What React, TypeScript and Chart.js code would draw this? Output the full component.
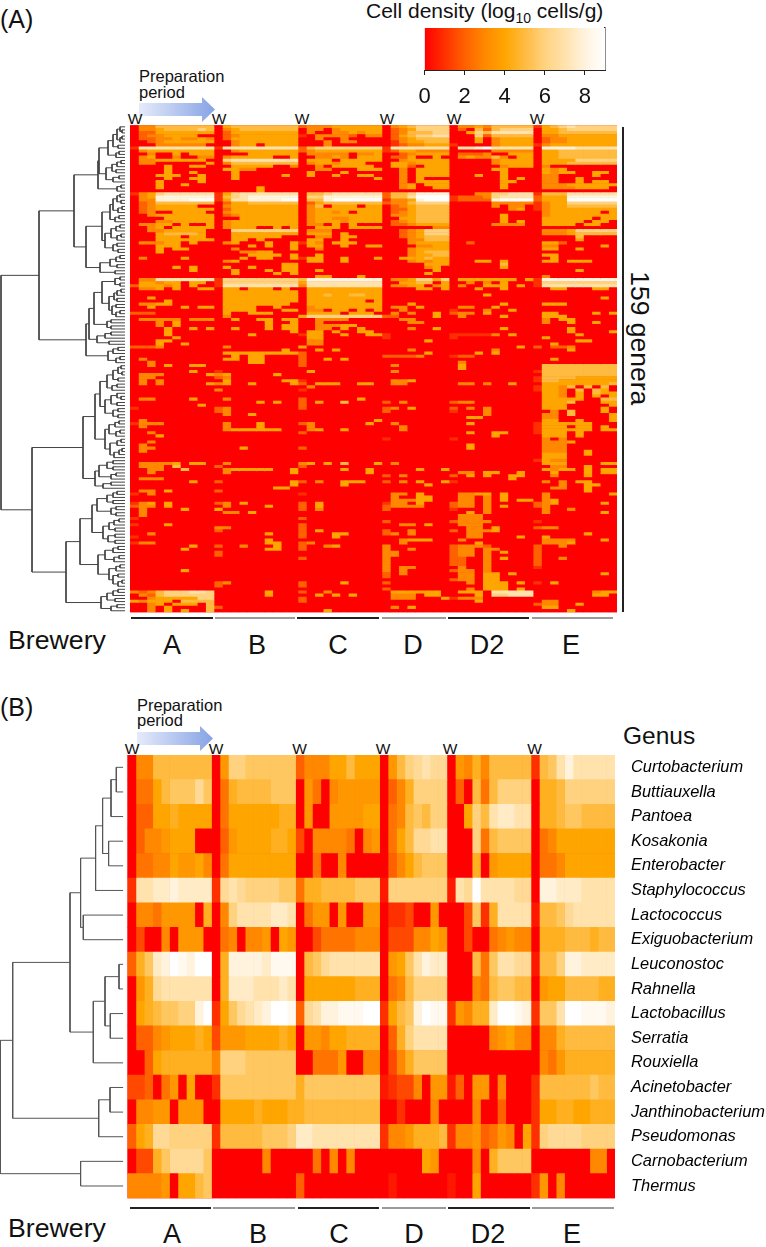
import React, { useEffect, useRef } from "react";
import { Chart, registerables } from "chart.js";
Chart.register(...registerables);

const FONT = '"Liberation Sans", Arial, sans-serif';
const breweries = ["A", "B", "C", "D", "D2", "E"];
const breweryColumns = [10, 10, 10, 8, 10, 10];
const colorStops = ["#ff0000", "#ff3000", "#ff6000", "#ff8800", "#ffa500", "#ffbb40", "#ffd280", "#ffe2ac", "#fff3de", "#ffffff"];

// Panel B: log10 density per sample
const curtobacterium = [0,3,3,5,5,5,5,5,5,5, 0,3.5,6,6,5.5,5.5,5.5,5.5,5.5,5.5, 2,3,3,3,4,4,5,4,4,4, 0,3.5,5,6,6.5,7,6.5,6.5, 0,3.5,3,4.5,3,5,5,5,5,5, 1,5,5.5,7,8,7,7,7,7,7];
const buttiauxella = [0,2.5,2.5,4,5,5.5,5.5,5.5,6.5,5.5, 0,2.5,4.5,5,5,5,5,5.5,5.5,5.5, 0,3.5,2.5,0,3,3.5,3.5,3.5,3.5,3.5, 0,2,3,4.5,6,6,6,6, 0,2,0,5,2.5,5,6,6,6,6, 0,4.5,4.5,5,6,6,6,6,6,6];
const pantoea = [0,2,2,4,4,4.5,4,4,4,4, 0,2.5,4,4,4,4,4,4,4.5,4.5, 0,3.5,0,0,3.5,3.5,3.5,3.5,4,4, 0,2.5,3,5,5.5,5,6,6, 0,0,4,6,5,7,7.5,7.5,7,7, 0,4.5,4.5,5,5.5,5.5,5,5,5,5];
const kosakonia = [0,2,3,3,3.5,4,4,4,0,0, 0,2,3.5,4,4,4,4,4.5,4.5,4, 1.5,0,3,3,3,3,2.5,0,3,3.5, 0,2.5,4,5,6.5,6.5,7,7, 0,0,0,6,2.5,5,5.5,5.5,5.5,5.5, 0,2.5,3,4,4,4,4,4,4,4];
const enterobacter = [0,2.5,2.5,3,3,4,3.5,3.5,4,3, 0,2.5,4,4,4,4,4,4,4,4, 0,0,2.5,0,0,3,0,0,0,0, 0,2,3,4,5,5.5,5.5,5.5, 0,0,0,4.5,0,3.5,4,4,4,4, 0,2.5,2.5,3,4,4,4,4,4,4];
const staphylococcus = [1,7,7,7.5,7.5,8,7.5,7.5,7.5,7.5, 1,6.5,7,6.5,6,6,6,6,5.5,5.5, 2.5,4.5,4.5,5,5,5,5,5.5,5.5,5.5, 0.5,6,6,6,6,6,6,6, 0.5,7,6.5,9,7,7,7,7,6.5,6.5, 0,8,8,7.5,7.5,7.5,7,7,7,7];
const lactococcus = [0,3,3,2.5,3.5,3.5,3.5,3.5,0,4.5, 0,3,6,7,7,7,7,7.5,7.5,7, 0,2.5,3.5,3.5,0,3.5,0,0,3.5,3.5, 0,1,1,1.5,0,0,3.5,0, 0,0,1.5,5.5,1,4.5,7,7,7,7, 0.5,5,5,5.5,6.5,7,7,7,7,7];
const exiguobacterium = [0,1.5,0,0,3,0,3.5,3.5,3.5,0, 0,2.5,3,0,3,3,3.5,0,4,3.5, 0,0,1.5,2.5,2.5,2.5,2.5,3,3,3, 0,1.5,1.5,1.5,3,3,4,3.5, 0,0,1.5,0,0,2.5,3,3.5,3,3, 0,4.5,4.5,4.5,5,5,5,4.5,5,5];
const leuconostoc = [2,4.5,5.5,7.5,8,9,8.5,8,9,9, 0,4.5,8,8,8,8,7.5,8.5,8.5,8.5, 0,5,5.5,6.5,7,7,7,7,7,7, 0,3.5,4,5.5,7,8,7.5,7.5, 0,0,0,5,2.5,5.5,7,7,6.5,6.5, 0.5,5,5,6,8,8,7.5,7.5,7.5,7.5];
const rahnella = [0,3.5,4.5,6.5,7,7,7,7,7,7, 0,4.5,7.5,7.5,7.5,7,7,7,7.5,7, 0,4,4,4,4,4,4,4.5,4.5,4.5, 0,2.5,3,5,6,6,6,6, 0,0,0,3,2.5,5,5.5,5.5,5,5, 0,3.5,4,4,5,5,5,5,4.5,4.5];
const lactobacillus = [0,4,4.5,5,5.5,5.5,6,6,8,9, 1,4,5.5,6.5,7,7.5,8,9,9,8.5, 2,6.5,7,8,8,8.5,8.5,8.5,9,9, 1,4,5,5.5,8,9,8.5,8.5, 1,3.5,3,4.5,4.5,7.5,9,9,8.5,8, 1,5.5,5.5,7,9,9,8.5,8.5,8.5,8];
const serratia = [0,2,2,3,3.5,4,4,4,4.5,4, 1.5,3.5,3.5,3.5,4,4,4,4,4.5,4, 0,3.5,3.5,3,4,4,4.5,4.5,4.5,4.5, 0,2,4.5,6,7,7,7,7, 0,0,0,0,0,3,3.5,4,3,3, 0,3,3,4.5,5,5,5,5,5,5];
const rouxiella = [0,0,2,4,4.5,4.5,4.5,4.5,4.5,4.5, 3,6,6,6,5.5,5.5,5.5,5.5,5.5,5.5, 0,0,2.5,2.5,2.5,3.5,0,0,3,3, 0,1.5,3,4.5,5.5,5.5,5.5,5.5, 0,0,0,0,0,0,0,0,0,0, 0,3,2.5,3.5,4.5,4.5,4.5,4.5,4.5,4.5];
const acinetobacter = [1.5,1.5,2,0,2.5,3.5,0,4,0,0, 1,5.5,5.5,5.5,5.5,5.5,5.5,5.5,5.5,5.5, 4.5,5.5,5.5,5.5,5.5,5.5,5.5,5.5,5.5,5.5, 0.5,1,1.5,1.5,3,0,3.5,3.5, 0.5,2,0,3.5,3.5,0,3,0,0,0, 1,5,5,5,5,5,5,5.5,5,5];
const janthinobacterium = [0,3,3,3.5,3.5,0,3.5,3.5,3.5,0, 0,4,4,4,4,4.5,4,4,4,4.5, 4.5,5,5,5,5,5,5,5,5,5, 0,0,1,0,0,0,3,0, 0,0,0,3,0,0,2,0,0,0, 1,4,4,4.5,4.5,4,4,4.5,4.5,4.5];
const pseudomonas = [2,4,4.5,6.5,6.5,6,6,6,6,6, 1,5,5,5,5,5,5.5,5.5,5.5,6, 7.5,7.5,7,7,7,7,7,7,7,7, 1,3,3,3.5,4.5,4.5,4.5,5, 1,3,3,3.5,2,2.5,3.5,3,0,4, 1,6,6.5,6.5,6.5,6.5,6,6,6,6];
const carnobacterium = [0,1.5,1.5,4.5,5.5,6.5,6.5,6.5,6.5,5.5, 0,0,0,0,0,0,3,0,0,0, 0,0,2.5,0,3,0,3,0,0,0, 0,0,0,0,0,4,3.5,0, 0,0,0,3,0,4.5,5.5,5.5,5.5,5.5, 0,0,0,0,0,0,0,3,3,0];
const thermus = [3,3,3,3,3.5,0,4,4,5,5.5, 0,0,0,0,0,0,0,0,0,0, 2,0,0,0,0,0,0,0,0,0, 0,0.5,0,0,0,0,0,0, 0.5,0,0,4,0,0,0,0,0,0, 1,3.5,0,3,0,0,0,0,0,0];

const genusLabels = ["Curtobacterium","Buttiauxella","Pantoea","Kosakonia","Enterobacter","Staphylococcus","Lactococcus","Exiguobacterium","Leuconostoc","Rahnella","Lactobacillus","Serratia","Rouxiella","Acinetobacter","Janthinobacterium","Pseudomonas","Carnobacterium","Thermus"];
const panelBRows = [curtobacterium,buttiauxella,pantoea,kosakonia,enterobacter,staphylococcus,lactococcus,exiguobacterium,leuconostoc,rahnella,lactobacillus,serratia,rouxiella,acinetobacter,janthinobacterium,pseudomonas,carnobacterium,thermus];

// Panel A: one string per genus, one digit per sample (blocks per brewery; a short block ends in zeros)
const panelARowText = [
"0335555555 0455555555 2333444444 03456666 0334355555 1456766666",
"0334555565 0345555555 0330344444 02346666 0205256666 0445666666",
"0224444444 0244444444 0300334344 02355566 0046577777 0445555555",
"0233444400 0234444444 1033332033 02456677 0006255555 0334444444",
"0223343343 0244444444 0030030000 02345555 0004034444 0233444444",
"0023444444 0034444444 0003033000 01344555 0004034444 0233444444",
"0003333330 0034404444 0003000000 01233444 1000034444 1344444444",
"1777777777 1777777777 2566666666 17777777 0778977777 0888877777",
"0344444444 0034444444 2344444444 12443333 0000033333 0445555555",
"0030040444 0000444444 0333330334 00234444 0222300444 0445555555",
"0340030033 0344444004 0033430444 02240040 0343353044 0445555555",
"0334444440 0677777777 0444044444 00344444 0000034444 0444466666",
"0330000004 0355555555 0344344400 04434444 0000034444 0444555555",
"0000400440 0044444003 0030444440 04420444 0000003444 0300000000",
"0000400000 0443300000 0033000444 00304444 0000044000 0434000000",
"0000400400 0040000000 0400040000 00304444 0000004000 0434400440",
"0004440040 0040000040 0400400440 00304444 0004004000 0330000400",
"0000400440 0040000000 0000000004 00304000 0000004040 0330040000",
"0004000040 0 0 00304444 0000004400 0330040440",
"0004004000 0 0 00340444 0000004000 0333444444",
"0004 0000040000 0 00340044 0000004000 0333344440",
"0 0000040000 0 0 0 0",
"1346777777 1467777777 0556777777 25568888 0003366777 1555777777",
"0348888888 1567888888 0668888888 25579999 1222367777 2444888888",
"0338888999 1477888899 0558999999 13348999 1222289999 2444999999",
"0235555555 0244555555 0245555555 23356666 0000033333 1344666666",
"0234444400 0344444444 0350444044 02345555 0000030330 1344555555",
"0234444444 0244444444 0344444444 02245555 0000000340 1344444444",
"0230044440 0344444444 0344340444 02345555 0 0344444404",
"0034444444 0234444444 0344444444 03345555 0000004000 0344444444",
"0000444444 0004444444 0344334444 00445555 0000004000 0444444044",
"0003344444 0344444444 0344434444 02345555 0000004040 0444440440",
"0334404004 0344444444 0330404000 02234444 0000033330 0444404400",
"0034044444 0344400404 0044404444 00000033 0 0",
"0033444440 0066666666 0333000000 00234666 0 0333466666",
"0004555540 0044444444 0444040000 00234666 0 0333455555",
"0004440440 0044444400 0033044000 00234555 0 0000050000",
"0004444444 0044040000 0440040000 00033555 0 0000040000",
"0333440400 0340004004 1430444000 00034444 0020000000 0442000000",
"0004440000 0000404004 0440040044 00003344 0 0330000040",
"0004044000 0030000004 0030000000 00034444 0 0440040000",
"0004 0003344000 0 00034555 0 0",
"0 0000444404 0040000000 00034455 0 0440000000",
"0300004000 0004044004 1440040004 00444544 0 0040000000",
"0 0340000000 0440040000 00034344 0004404000 0440444000",
"0 0000000044 0 00000444 0000005000 0",
"0000040400 0400400044 0 00000340 0000004000 0",
"0000000400 0040004044 0040000000 00000040 0 0000040000",
"0 0040000404 0 00000400 0 0",
"0 0 0044000400 0 0 0300000000",
"0337777777 1666666666 5888888888 03346646 0444444404 1888888888",
"0443440440 1666666666 4777777777 00445504 0030304000 1666666666",
"2444340400 1777777777 3777777777 03344034 0300444040 1777777777",
"0334040044 0440444040 0444444444 00004404 0004004000 0044000440",
"0 0444444444 0444444444 0 0 0",
"0 0444444444 0445445544 0 0000400000 0",
"0040000000 0444444444 0444444444 0 0 0000000040",
"0000400000 0444444444 0444444404 0 0 0",
"0334400000 0444444440 0444444444 00040000 0000004000 0444000000",
"0040004044 0444400400 0344444444 03304000 0330040000 0",
"0 0444400044 0330440404 003 1000300400 0",
"2220000000 0400444000 0444404440 03030040 2330400000 0440000404",
"0 03 4666666666 22000040 0300004000 0444000000",
"0333330333 0040044044 0033330000 00330000 0 0304400000",
"0003040000 0000004004 003 00033000 0 0300400400",
"0003040000 0000004044 0033344000 0 0 0",
"0000400404 0040004044 0033040400 00030040 0000004000 00004",
"00004 0000000004 0440400440 0 0 0000400004",
"00004 00004 1440040044 1 1111130400 0000040000",
"000004 0 044 1 1 04",
"00044 0 033 000004 0 0000044000",
"0004004 0 033 0 0 004",
"2223 03000000 4 00000000 0000000040 20223000 1333300040 00004",
"0 0000000040 0040400000 00030000 0000030000 00004",
"0 0444444444 2 000004 0004040000 0",
"0 0040440000 2 22223 122 0",
"03 0440440000 2004040000 0 0 004",
"003 000044 2 0 03 0",
"0030400440 0 2 03 04 0555555555",
"0 0 0 0 04 0555555555",
"00000004 1 04 03 0 1555555555",
"0333000004 3400000400 0 0 0 0555555555",
"033 23 0 0 0 1555544444",
"0303 0400000044 1 03340000 0 1554444444",
"0303000004 3400400004 2044400440 033 0330300400 0444444445",
"0 0 03 0 0 1443505050",
"0 3 1 0 0 1443050540",
"0 0 0 0 0 0443040544",
"0 0 0 0 0 0443040404",
"0330000400 03 2000000400 0 0 0444440055",
"0 0000040400 2040050000 203 233 0444500044",
"0000000040 0 2 0 0 0444000004",
"1 23 2 2304 20303 0444000040",
"0 23 0 2 10003 0030500040",
"0 0300400000 0 0 00003 0330500004",
"0 0 0 0 0044 0330000004",
"03 0 0000000004 0 0 0440040004",
"1333 0300040000 2300000040 03 004 1444444000",
"03 0300040000 03 003 0 1444044040",
"0 0344444400 034004 003 0 1444444044",
"003 0 2 0 0040044 1444040000",
"0004 0 0 0 000004 0444040000",
"0 0 0 1 1 0303",
"003 0 0 0 0 03334",
"03 0 0 0 004 0333",
"033 0004 2 0 004 0333",
"03 0 0 0 0 0333004",
"0 0 0 0 0 0444004",
"0 0 0 0 0 0444",
"0 0 0 0 0 1433",
"0333340440 03 3404050004 03 0 0444000044",
"033305 2 2 0 0 0033004",
"0033005 0344444004 0000040040 00004004 0 0434404044",
"003 0300000004 0000000040 0 0330440040 0040004044",
"0 0 0 203 2040400440 0030004",
"0333 0 0 0 0000000400 0",
"00000004 2000000004 2030044400 20304004 1 0303044",
"0 0000000004 000004 000004 0 0003004400",
"0 000000044 0 0 0 0033004",
"03304 2 0 0 0 0000004",
"103 0 1 03304 0334404 03000000040",
"0 0 0 03004400 0330304 03",
"0 0 0 03334400 0330304044 034",
"1340400000 2304000000 204 13304 23303 2340000040",
"2330400000 0300004000 204 23333 2330304 23",
"03000040 4 203 2 10003 03003 0304",
"03 033040 0 0 00403 0300000040",
"03 0 0 0 0333 0",
"1 0 2 0 0333 0",
"0 0 0 2 23333 1",
"10004 0 2 00330400 0333 0",
"0 33 2 0 003304 233",
"0 2 204 20030000 203334 0",
"003 0000004 200044 23030000 0033 0000004",
"1 0 20004 0 0033000040 04",
"0 0000004 0 00344400 03 0333300040",
"133 00000044 23 003 0004 03334",
"00000004 2003000400 2003400000 3 23332 2003",
"0000004 00000044 2 3003 233033 2",
"0 2 0 33 2330304 2",
"0 2 0 33 23303 2",
"0 0 2 3 2200304 2003",
"0 0 0 3 22003 2",
"0 0 0 3 22003 2",
"0 0 0 30330000 03003 1",
"0000004 0 0 303 23303 0",
"0 0 0 203 0330440400 0000000040",
"0 0 0 2 033044 0",
"0 0 0 0 233044 0",
"0 23 200004 2 0030444040 104",
"0 2 2 0 0000444 0",
"0 0 0 2 0030444040 0",
"3235666776 0000004 2003 04444440 0444077777 0000000344",
"0325666666 0000004 004040400 03330440 0004066777 000000044",
"0034444466 0 2 03330004 1333 0",
"4344405555 0 2 0 0004 033",
"0034044405 0 0 0 0 233004",
"0030400005 2 0 0304 0 044",
"0030404005 0 0004 0 0 00004",
];

type Tree = 0 | [number, Tree, Tree];
const clusterT1: Tree = [27, [26, [17, [12, [8, [5, 0, [3, 0, 0]], [5, [3, 0, 0], 0]], [7, 0, 0]], [9, [6, 0, 0], 0]], [19, [13, [8, [4, 0, 0], 0], [9, 0, 0]], [12, [6, 0, 0], 0]]], [8, [4, 0, 0], 0]];
const clusterT2: Tree = [39, [23, [15, [12, [8, [5, 0, 0], [4, 0, 0]], [7, [3, 0, 0], 0]], [10, [6, 0, 0], 0]], [20, [14, [9, [5, 0, 0], 0], [8, [4, 0, 0], 0]], [12, [8, 0, 0], [7, 0, 0]]]], [25, [15, [9, [5, 0, 0], 0], [8, 0, 0]], [10, 0, 0]]];
const clusterT3: Tree = [39, [36, [31, [23, [10, [5, 0, 0], [5, 0, 0]], [16, [11, [8, [4, 0, 0], 0], [8, 0, 0]], [13, [9, 0, 0], [9, [5, 0, 0], 0]]]], [18, [14, 0, 0], [14, 0, 0]]], [28, [20, [14, 0, 0], 0], [16, 0, 0]]], [17, [12, [7, 0, 0], 0], [9, [5, 0, 0], 0]]];
const clusterL1: Tree = [30, [25, [18, [12, [7, [4, 0, 0], [3, 0, 0]], [7, 0, 0]], [13, [8, 0, 0], 0]], [20, [14, [8, 0, [4, 0, 0]], [8, 0, 0]], [12, [7, 0, 0], [7, 0, 0]]]], [20, [16, [10, [6, 0, 0], 0], [9, [5, 0, 0], 0]], [15, [8, [4, 0, 0], 0], [11, [6, [3, 0, 0], 0], 0]]]];
const clusterL2: Tree = [30, [26, [18, [12, 0, 0], [12, 0, 0]], [14, [9, 0, 0], 0]], [22, [14, 0, 0], 0]];
const clusterL3: Tree = [33, [28, [18, [12, [8, 0, 0], 0], [12, 0, 0]], [14, [9, 0, 0], [9, 0, 0]]], [22, [16, [11, [6, 0, 0], 0], [10, 0, 0]], [17, [10, 0, 0], [10, 0, 0]]]];
const clusterL4: Tree = [27, [20, [12, [7, 0, 0], 0], [11, [6, 0, 0], 0]], [16, [9, [5, 0, 0], 0], [12, [7, 0, 0], [7, [3, 0, 0], 0]]]];
const clusterL5: Tree = [24, [18, [12, [7, 0, 0], 0], [10, 0, 0]], [14, [8, 0, 0], 0]];
const treeA: Tree = [124, [86, [51, clusterT1, clusterT2], clusterT3], [93, [42, clusterL1, clusterL2], [59, [45, clusterL3, clusterL4], clusterL5]]];
const treeB: Tree = [123, [110.6, [53.3, [42.7, [27.7, [20.7, [12.3, [7, 0, 0], 0], [14.7, 0, 0]], 0], [40, 0, 0]], [30, [18.3, [4.3, 0, 0], [13, 0, 0]], 0]], [24.6, [13.3, 0, 0], 0]], [42.7, 0, 0]];

const parseRowA = (text: string) => {
  const blocks = text.split(" ");
  const out: number[] = [];
  breweryColumns.forEach((n, i) => {
    const b = (blocks[i] || "0").padEnd(n, "0").slice(0, n);
    for (const ch of b) out.push(Number(ch));
  });
  return out;
};

const colorOf = (v: number) => {
  const lo = Math.min(Math.floor(v), 8);
  const t = v - lo;
  const hex = (s: string) => [1, 3, 5].map((i) => parseInt(s.slice(i, i + 2), 16));
  const a = hex(colorStops[lo]);
  const b = hex(colorStops[lo + 1]);
  return `rgb(${a.map((c, i) => Math.round(c + (b[i] - c) * t)).join(",")})`;
};

const treeSegments = (tree: Tree) => {
  let leaf = 0;
  const pts: { x: number; y: number }[] = [];
  const walk = (n: Tree): { h: number; y: number } => {
    if (n === 0) return { h: 0, y: leaf++ + 0.5 };
    const A = walk(n[1]);
    const B = walk(n[2]);
    pts.push({ x: A.h, y: A.y }, { x: n[0], y: A.y }, { x: n[0], y: B.y }, { x: B.h, y: B.y }, { x: NaN, y: NaN });
    return { h: n[0], y: (A.y + B.y) / 2 };
  };
  walk(tree);
  return { pts, leaves: leaf };
};

const redBackdrop = {
  id: "redBackdrop",
  beforeDatasetsDraw(chart: any) {
    const { ctx, chartArea: a } = chart;
    ctx.save();
    ctx.fillStyle = colorStops[0];
    ctx.fillRect(a.left, a.top, a.right - a.left, a.bottom - a.top);
    ctx.restore();
  },
};

const heat = (c: HTMLCanvasElement, rows: number[][], labels: string[], padding: any, showLabels: boolean) => {
  const nCols = rows[0].length;
  const datasets = Array.from({ length: nCols }, (_, col) => ({
    data: rows.map(() => 1),
    backgroundColor: rows.map((r) => colorOf(r[col])),
    barPercentage: 1,
    categoryPercentage: 1,
    borderWidth: 0,
  }));
  return new Chart(c, {
    type: "bar",
    data: { labels, datasets },
    plugins: [redBackdrop],
    options: {
      indexAxis: "y",
      responsive: false,
      animation: false,
      events: [],
      layout: { padding, autoPadding: false },
      plugins: { legend: { display: false }, tooltip: { enabled: false } },
      scales: {
        x: { type: "linear", stacked: true, min: 0, max: nCols, display: false },
        y: showLabels
          ? {
              stacked: true,
              position: "right",
              grid: { display: false, drawTicks: false },
              border: { display: false },
              afterFit: (s: any) => { s.width = 151; s.paddingTop = 0; s.paddingBottom = 0; },
              ticks: { autoSkip: false, padding: 16, color: "#000", font: { family: FONT, size: 16.4, style: "italic" } },
            }
          : { stacked: true, display: false },
      },
    },
  } as any);
};

const dendro = (c: HTMLCanvasElement, tree: Tree, hMax: number, padding: any, color: string) => {
  const { pts, leaves } = treeSegments(tree);
  return new Chart(c, {
    type: "scatter",
    data: { datasets: [{ data: pts, showLine: true, spanGaps: false, pointRadius: 0, borderColor: color, borderWidth: 1 }] },
    options: {
      responsive: false,
      animation: false,
      events: [],
      layout: { padding, autoPadding: false },
      plugins: { legend: { display: false }, tooltip: { enabled: false } },
      scales: {
        x: { type: "linear", reverse: true, min: 0, max: hMax, display: false },
        y: { type: "linear", reverse: true, min: 0, max: leaves, display: false },
      },
    },
  } as any);
};

const colorbar = (c: HTMLCanvasElement) =>
  new Chart(c, {
    type: "bar",
    data: {
      labels: ["density"],
      datasets: [{
        data: [[0, 9]],
        barPercentage: 1,
        categoryPercentage: 1,
        borderSkipped: false,
        backgroundColor: (ctx: any) => {
          const a = ctx.chart.chartArea;
          if (!a) return colorStops[0];
          const g = ctx.chart.ctx.createLinearGradient(a.left, 0, a.right, 0);
          colorStops.forEach((s, i) => g.addColorStop(i / 9, s));
          return g;
        },
      }],
    },
    options: {
      indexAxis: "y",
      responsive: false,
      animation: false,
      events: [],
      layout: { padding: { left: 10.5, right: 19, top: 8, bottom: 0 }, autoPadding: false },
      plugins: { legend: { display: false }, tooltip: { enabled: false } },
      scales: {
        x: {
          type: "linear", min: 0, max: 9,
          afterFit: (s: any) => { s.height = 38; s.paddingLeft = 0; s.paddingRight = 0; },
          grid: { drawOnChartArea: false, tickLength: 5, color: "#222" },
          border: { color: "#222" },
          ticks: { stepSize: 2, includeBounds: false, padding: 9, maxRotation: 0, color: "#111", font: { family: FONT, size: 22 } },
        },
        y: {
          position: "right",
          afterFit: (s: any) => { s.width = 0; s.paddingTop = 0; s.paddingBottom = 0; },
          grid: { display: false, drawTicks: false },
          ticks: { display: false },
          border: { display: true, color: "#222", width: 1.5 },
        },
      },
    },
  } as any);

const T = ({ x, y, size, children, style }: any) => (
  <div style={{ position: "absolute", left: x, top: y, fontSize: size, lineHeight: 1, whiteSpace: "nowrap", color: "#111", fontFamily: FONT, ...style }}>{children}</div>
);
const canvasAt = (left: number, top: number): React.CSSProperties => ({ position: "absolute", left, top, display: "block" });

const Arrow = ({ x, y, id }: { x: number; y: number; id: string }) => (
  <svg width={78} height={26} style={{ position: "absolute", left: x, top: y }}>
    <defs>
      <linearGradient id={id} x1="0" x2="1" y1="0" y2="0">
        <stop offset="0" stopColor="#e6ebfa" />
        <stop offset="1" stopColor="#86a3e6" />
      </linearGradient>
    </defs>
    <path d="M0 6 H63 V0 L76 12.5 L63 25 V19 H0 Z" fill={`url(#${id})`} />
  </svg>
);

const BreweryRow = ({ lineY, letterY, spans, cx }: { lineY: number; letterY: number; spans: number[][]; cx: number[] }) => (
  <>
    {spans.map(([a, b], i) => (
      <div key={i} style={{ position: "absolute", left: a, top: lineY, width: b - a, height: 2, background: i % 2 ? "#9a9a9a" : "#222" }} />
    ))}
    {breweries.map((n, i) => (
      <T key={n} x={cx[i] - 40} y={letterY} size={27} style={{ width: 80, textAlign: "center" }}>{n}</T>
    ))}
  </>
);

const wA = [135, 219, 302, 387, 454, 537];
const wB = [132, 216, 299.5, 383, 450, 534.5];

export default function App() {
  const cbar = useRef<HTMLCanvasElement>(null);
  const heatA = useRef<HTMLCanvasElement>(null);
  const heatB = useRef<HTMLCanvasElement>(null);
  const treeCanvasA = useRef<HTMLCanvasElement>(null);
  const treeCanvasB = useRef<HTMLCanvasElement>(null);
  useEffect(() => {
    const rowsA = panelARowText.map(parseRowA);
    const charts = [
      colorbar(cbar.current!),
      heat(heatA.current!, rowsA, rowsA.map((_, i) => String(i + 1)), { left: 1, right: 2, top: 0.3, bottom: 1.7 }, false),
      heat(heatB.current!, panelBRows, genusLabels, { left: 0.5, right: 0, top: 0, bottom: 1.7 }, true),
      dendro(treeCanvasA.current!, treeA, 125, { left: 0, right: 1, top: 0.3, bottom: 1.7 }, "#444"),
      dendro(treeCanvasB.current!, treeB, 123.3, { left: 0, right: 0.7, top: 0, bottom: 1.7 }, "#555"),
    ];
    return () => charts.forEach((c) => c.destroy());
  }, []);
  return (
    <div style={{ position: "absolute", left: 0, top: 0, width: 766, height: 1247, overflow: "hidden", background: "#fff" }}>
      <T x={0} y={7} size={25}>(A)</T>
      <T x={366} y={0} size={21}>Cell density (log<sub style={{ fontSize: 14, lineHeight: 0 }}>10</sub> cells/g)</T>
      <canvas ref={cbar} width={210} height={88} style={canvasAt(414, 20)} />
      <T x={139} y={68} size={16.5}>Preparation</T>
      <T x={139} y={84} size={16.5}>period</T>
      <Arrow x={139} y={97} id="arrA" />
      {wA.map((x, i) => <T key={i} x={x - 8} y={111} size={15.5} style={{ width: 16, textAlign: "center" }}>W</T>)}
      <canvas ref={treeCanvasA} width={126} height={489} style={canvasAt(0, 125)} />
      <canvas ref={heatA} width={490} height={489} style={canvasAt(129, 125)} />
      <div style={{ position: "absolute", left: 622, top: 127, width: 2, height: 485, background: "#222" }} />
      <T x={627} y={325} size={26.5} style={{ transform: "rotate(90deg)", transformOrigin: "center", width: 140, marginLeft: -57, textAlign: "center" }}>159 genera</T>
      <T x={8} y={627} size={26.7}>Brewery</T>
      <BreweryRow lineY={617} letterY={632} cx={[172, 257, 338, 413, 487, 571]}
        spans={[[131, 213], [215, 295], [297, 379], [382, 446], [448, 529], [532, 613]]} />

      <T x={0} y={695} size={25}>(B)</T>
      <T x={137} y={697} size={16.5}>Preparation</T>
      <T x={137} y={712} size={16.5}>period</T>
      <Arrow x={137} y={726} id="arrB" />
      {wB.map((x, i) => <T key={i} x={x - 8} y={741} size={15.5} style={{ width: 16, textAlign: "center" }}>W</T>)}
      <T x={623} y={724} size={24.5}>Genus</T>
      <canvas ref={treeCanvasB} width={124} height={445} style={canvasAt(0, 755)} />
      <canvas ref={heatB} width={639} height={445} style={canvasAt(127, 755)} />
      <T x={8} y={1215} size={26.7}>Brewery</T>
      <BreweryRow lineY={1207} letterY={1221} cx={[172, 258, 339, 414, 488, 572]}
        spans={[[130, 211], [213, 295], [298, 379], [382, 446], [448, 530], [532, 614]]} />
    </div>
  );
}
